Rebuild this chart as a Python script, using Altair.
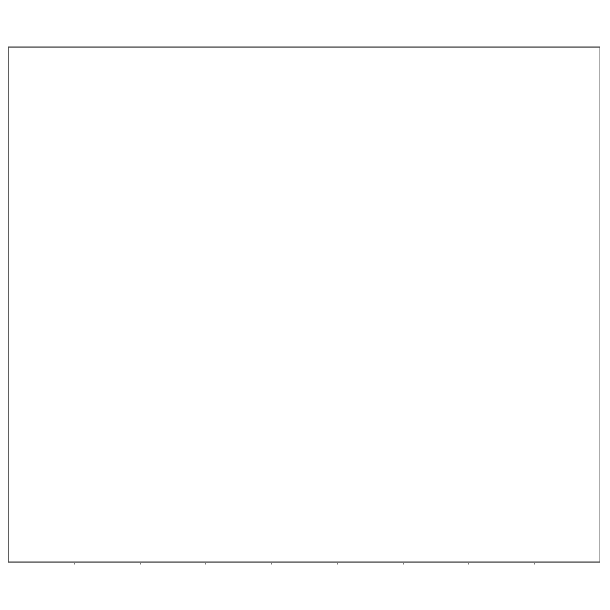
import altair as alt
import pandas as pd

# Empty plot: only the frame and tick positions are visible in the reference
x_ticks = [1, 2, 3, 4, 5, 6, 7, 8]
y_ticks = [1, 2, 3, 4, 5, 6, 7]
x_domain = [0, 9]
y_domain = [0, 8]

df = pd.DataFrame({"x": x_ticks[:7], "y": y_ticks})

chart = alt.Chart(df).mark_point(opacity=0).encode(
    x=alt.X("x:Q", scale=alt.Scale(domain=x_domain, nice=False, zero=False),
            axis=alt.Axis(values=x_ticks, labels=False, title=None, domain=False,
                          grid=False, tickSize=2, tickColor="#777777", tickWidth=1)),
    y=alt.Y("y:Q", scale=alt.Scale(domain=y_domain, nice=False, zero=False),
            axis=None),
).properties(
    width=592, height=515,
    padding={"left": 0, "top": 39, "right": 0, "bottom": 0},
).configure_view(
    stroke="#444444", strokeWidth=1.3
)

chart.save("out.html", embed_options={"renderer": "svg", "actions": False})
